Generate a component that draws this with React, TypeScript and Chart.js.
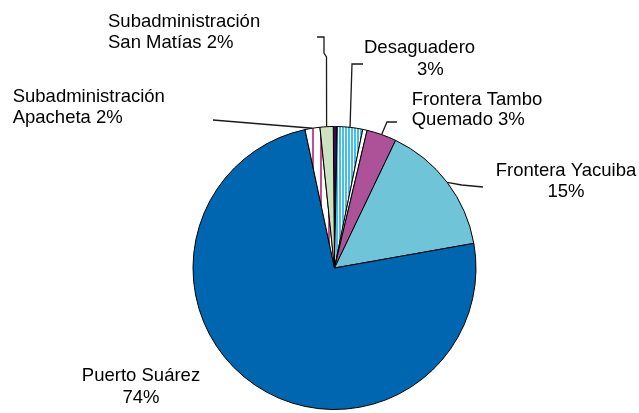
import React, { useEffect, useRef } from "react";
import { Chart, registerables } from "chart.js";

Chart.register(...registerables);

// ---- data ----
const categories = [
  "Otros 1",
  "Desaguadero",
  "Otros 2",
  "Frontera Tambo Quemado",
  "Frontera Yacuiba",
  "Puerto Suárez",
  "Subadministración Apacheta",
  "Subadministración San Matías",
];
const values = [0.44, 2.9, 0.5, 3.4, 15.1, 74.4, 1.7, 1.5];
const labelTexts: string[][] = [
  [],
  ["Desaguadero", "3%"],
  [],
  ["Frontera Tambo", "Quemado 3%"],
  ["Frontera Yacuiba", "15%"],
  ["Puerto Suárez", "74%"],
  ["Subadministración", "Apacheta 2%"],
  ["Subadministración", "San Matías 2%"],
];

// ---- label layout (offsets relative to pie centre) ----
type LineSpec = { dx: number; dy: number; align: CanvasTextAlign };
type LabelSpec = { lines: LineSpec[]; leader: [number, number][] | null } | null;
const labelLayout: LabelSpec[] = [
  null,
  {
    lines: [
      { dx: 29.5, dy: -215, align: "left" },
      { dx: 82.5, dy: -193, align: "left" },
    ],
    leader: [
      [28.5, -204],
      [17.5, -204],
    ],
  },
  null,
  {
    lines: [
      { dx: 77.2, dy: -163, align: "left" },
      { dx: 77.2, dy: -143, align: "left" },
    ],
    leader: [
      [62.5, -146],
      [52.5, -146],
    ],
  },
  {
    lines: [
      { dx: 231.5, dy: -92, align: "center" },
      { dx: 231.5, dy: -71, align: "center" },
    ],
    leader: [
      [148.5, -81],
      [127.2, -83],
    ],
  },
  {
    lines: [
      { dx: -193.5, dy: 113, align: "center" },
      { dx: -193.5, dy: 135, align: "center" },
    ],
    leader: null,
  },
  {
    lines: [
      { dx: -321.8, dy: -166, align: "left" },
      { dx: -321.8, dy: -145, align: "left" },
    ],
    leader: [[-121.5, -148]],
  },
  {
    lines: [
      { dx: -226.5, dy: -241, align: "left" },
      { dx: -226.5, dy: -220, align: "left" },
    ],
    leader: [
      [-17.5, -231],
      [-10.5, -231],
      [-10.5, -215],
      [-8, -211],
    ],
  },
];

const FONT = '18.5px "Liberation Sans", Arial, sans-serif';

function stripes(bg: string, fg: string, period: number, lineW: number) {
  const c = document.createElement("canvas");
  c.width = period;
  c.height = 4;
  const ctx = c.getContext("2d")!;
  ctx.fillStyle = bg;
  ctx.fillRect(0, 0, period, 4);
  ctx.fillStyle = fg;
  ctx.fillRect(0, 0, lineW, 4);
  return ctx.createPattern(c, "repeat")!;
}

const labelPlugin = {
  id: "sliceLabels",
  afterDraw(chart: any) {
    const ctx: CanvasRenderingContext2D = chart.ctx;
    const meta = chart.getDatasetMeta(0);
    ctx.save();
    ctx.font = FONT;
    ctx.fillStyle = "#000";
    ctx.textBaseline = "alphabetic";
    meta.data.forEach((arc: any, i: number) => {
      const spec = labelLayout[i];
      if (!spec) return;
      const { x, y, startAngle, endAngle, outerRadius } = arc.getProps(
        ["x", "y", "startAngle", "endAngle", "outerRadius"],
        true
      );
      const mid = (startAngle + endAngle) / 2;
      const rx = x + Math.cos(mid) * outerRadius;
      const ry = y + Math.sin(mid) * outerRadius;
      if (spec.leader) {
        ctx.strokeStyle = "#1a1a1a";
        ctx.lineWidth = 1.3;
        ctx.beginPath();
        spec.leader.forEach(([dx, dy], k) => {
          if (k === 0) ctx.moveTo(x + dx, y + dy);
          else ctx.lineTo(x + dx, y + dy);
        });
        ctx.lineTo(rx, ry);
        ctx.stroke();
      }
      spec.lines.forEach((ln, k) => {
        ctx.textAlign = ln.align;
        ctx.fillText(labelTexts[i][k], x + ln.dx, y + ln.dy);
      });
    });
    ctx.restore();
  },
};

export default function App() {
  const ref = useRef<HTMLCanvasElement | null>(null);
  useEffect(() => {
    document.body.style.margin = "0";
    const canvas = ref.current!;
    const colors = [
      "#3c0a4e",
      stripes("#ffffff", "#45c0ea", 3, 2),
      "#ffffff",
      "#ad5298",
      "#70c4d8",
      "#0066b0",
      stripes("#ffffff", "#c0508a", 8, 2),
      "#cce3c2",
    ];
    const chart = new Chart(canvas, {
      type: "pie",
      data: {
        labels: categories,
        datasets: [
          {
            data: values,
            backgroundColor: colors as any,
            borderColor: "#000000",
            borderWidth: 1,
          },
        ],
      },
      options: {
        responsive: false,
        animation: false,
        rotation: -0.5,
        layout: { padding: { top: 126, bottom: 3, left: 192.5, right: 162.5 } },
        plugins: {
          legend: { display: false },
          tooltip: { enabled: false },
        },
      },
      plugins: [labelPlugin],
    });
    return () => chart.destroy();
  }, []);
  return (
    <div style={{ position: "fixed", left: 0, top: 0, width: 639, height: 413, background: "#fff" }}>
      <canvas ref={ref} width={639} height={413} />
    </div>
  );
}
